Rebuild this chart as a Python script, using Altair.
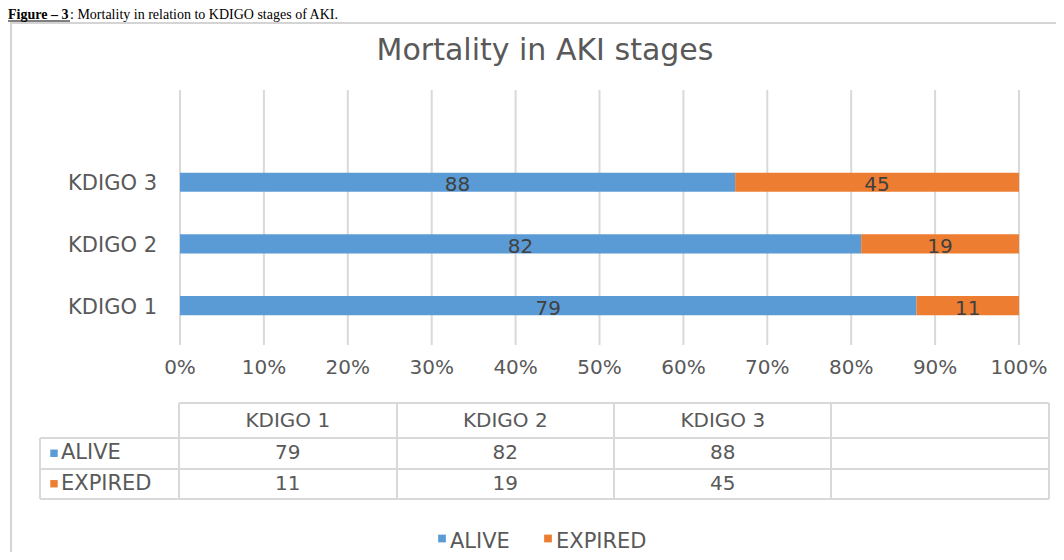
import altair as alt
import pandas as pd

# ---------------- data ----------------
stages = ["KDIGO 1", "KDIGO 2", "KDIGO 3"]
alive = [79, 82, 88]
expired = [11, 19, 45]
series = ["ALIVE", "EXPIRED"]
colors = ["#5B9BD5", "#ED7D31"]
tick_values = [0.0, 0.1, 0.2, 0.3, 0.4, 0.5, 0.6, 0.7, 0.8, 0.9, 1.0]
tick_labels = ["0%", "10%", "20%", "30%", "40%", "50%", "60%", "70%", "80%", "90%", "100%"]
chart_title = "Mortality in AKI stages"
caption_bold = "Figure \u2013 3"
caption_rest = ": Mortality in relation to KDIGO stages of AKI."

# ---------------- tables built from the arrays ----------------
rows = []
for s, a, e in zip(stages, alive, expired):
    t = a + e
    rows.append({"stage": s, "series": "ALIVE", "value": a, "start": 0.0, "end": a / t, "mid": a / t / 2})
    rows.append({"stage": s, "series": "EXPIRED", "value": e, "start": a / t, "end": 1.0, "mid": (a / t + 1.0) / 2})
bars_df = pd.DataFrame(rows)
ticks_df = pd.DataFrame({"t": tick_values, "label": tick_labels})
stage_df = pd.DataFrame({"stage": stages})
header_df = pd.DataFrame({"col": stages})
table_rows = []
for s, a, e in zip(stages, alive, expired):
    table_rows.append({"col": s, "series": "ALIVE", "value": a})
    table_rows.append({"col": s, "series": "EXPIRED", "value": e})
table_df = pd.DataFrame(table_rows)
series_df = pd.DataFrame({"series": series})
one = pd.DataFrame({"k": [0]})

# ---------------- styling ----------------
FONT = "DejaVu Sans"
TXT = "#595959"
GRID = "#d9d9d9"
M = 8  # page margin; view coords = page coords - 8

def P(v):
    return v - M

xscale = alt.Scale(domain=[0, 1], range=[P(180), P(1019)], nice=False, zero=False)
yscale = alt.Scale(domain=stages[::-1], range=[P(151.4), P(336.4)], paddingInner=0.69, paddingOuter=0.345)
cscale = alt.Scale(domain=series, range=colors)
colscale = alt.Scale(domain=stages + [" "], range=[P(179), P(1049)], paddingInner=0, paddingOuter=0)
rowscale = alt.Scale(domain=series, range=[P(438), P(499)], paddingInner=0, paddingOuter=0)

layers = []

# outer frame
layers.append(
    alt.Chart(one).mark_rect(fillOpacity=0, stroke="#d4d4d4", strokeWidth=2).encode(
        x=alt.value(P(11)), x2=alt.value(1100), y=alt.value(P(23)), y2=alt.value(700)
    )
)

# caption at very top
layers.append(
    alt.Chart(one).mark_text(text=caption_bold, font="Liberation Serif", fontSize=14, fontWeight="bold",
                             align="left", baseline="alphabetic", color="#000000").encode(
        x=alt.value(0), y=alt.value(P(19))
    )
)
layers.append(
    alt.Chart(one).mark_rule(color="#000000", strokeWidth=1).encode(
        x=alt.value(0), x2=alt.value(62), y=alt.value(P(21))
    )
)
layers.append(
    alt.Chart(one).mark_text(text=caption_rest, font="Liberation Serif", fontSize=14,
                             align="left", baseline="alphabetic", color="#000000").encode(
        x=alt.value(62), y=alt.value(P(19))
    )
)

# title
layers.append(
    alt.Chart(one).mark_text(text=chart_title, font=FONT, fontSize=30, color=TXT,
                             align="center", baseline="alphabetic").encode(
        x=alt.value(P(545)), y=alt.value(P(60))
    )
)

# vertical gridlines
layers.append(
    alt.Chart(ticks_df).mark_rule(color=GRID, strokeWidth=2).encode(
        x=alt.X("t:Q", scale=xscale, axis=None),
        y=alt.value(P(90)), y2=alt.value(P(345)),
    )
)

# bars
layers.append(
    alt.Chart(bars_df).mark_bar().encode(
        y=alt.Y("stage:N", scale=yscale, axis=None),
        x=alt.X("start:Q", scale=xscale, axis=None),
        x2="end:Q",
        color=alt.Color("series:N", scale=cscale, legend=None),
    )
)

# bar labels
layers.append(
    alt.Chart(bars_df).mark_text(font=FONT, fontSize=20, color="#404040", dy=3).encode(
        y=alt.Y("stage:N", scale=yscale, axis=None),
        x=alt.X("mid:Q", scale=xscale, axis=None),
        text="value:Q",
    )
)

# category labels
layers.append(
    alt.Chart(stage_df).mark_text(font=FONT, fontSize=21, color=TXT, align="right", dy=2).encode(
        y=alt.Y("stage:N", scale=yscale, axis=None),
        x=alt.value(P(157)),
        text="stage:N",
    )
)

# percentage tick labels
layers.append(
    alt.Chart(ticks_df).mark_text(font=FONT, fontSize=20, color=TXT).encode(
        x=alt.X("t:Q", scale=xscale, axis=None),
        y=alt.value(P(368)),
        text="label:N",
    )
)

# data table grid
for yy, x0 in [(403, 179), (438, 40), (469, 40), (499, 40)]:
    layers.append(
        alt.Chart(one).mark_rule(color=GRID, strokeWidth=2).encode(
            x=alt.value(P(x0)), x2=alt.value(P(1049)), y=alt.value(P(yy))
        )
    )
for xx, y0 in [(40, 438), (179, 403), (397, 403), (614, 403), (831, 403), (1049, 403)]:
    layers.append(
        alt.Chart(one).mark_rule(color=GRID, strokeWidth=2).encode(
            x=alt.value(P(xx)), y=alt.value(P(y0)), y2=alt.value(P(499))
        )
    )

# table header
layers.append(
    alt.Chart(header_df).mark_text(font=FONT, fontSize=20, color=TXT).encode(
        x=alt.X("col:N", scale=colscale, axis=None),
        y=alt.value(P(421)),
        text="col:N",
    )
)

# table values
layers.append(
    alt.Chart(table_df).mark_text(font=FONT, fontSize=20, color=TXT).encode(
        x=alt.X("col:N", scale=colscale, axis=None),
        y=alt.Y("series:N", scale=rowscale, axis=None),
        text="value:Q",
    )
)

# table row keys
layers.append(
    alt.Chart(series_df).mark_point(shape="square", filled=True, size=55, opacity=1).encode(
        x=alt.value(P(54)),
        y=alt.Y("series:N", scale=rowscale, axis=None),
        color=alt.Color("series:N", scale=cscale, legend=None),
    )
)
layers.append(
    alt.Chart(series_df).mark_text(font=FONT, fontSize=21, color=TXT, align="left").encode(
        x=alt.value(P(61)),
        y=alt.Y("series:N", scale=rowscale, axis=None),
        text="series:N",
    )
)

# bottom legend
for name, sx, tx in [("ALIVE", 442, 450), ("EXPIRED", 548, 556)]:
    sub = series_df[series_df["series"] == name]
    layers.append(
        alt.Chart(sub).mark_point(shape="square", filled=True, size=60, opacity=1).encode(
            x=alt.value(P(sx)), y=alt.value(P(538.5)),
            color=alt.Color("series:N", scale=cscale, legend=None),
        )
    )
    layers.append(
        alt.Chart(sub).mark_text(font=FONT, fontSize=21, color=TXT, align="left").encode(
            x=alt.value(P(tx)), y=alt.value(P(542)), text="series:N",
        )
    )

chart = (
    alt.layer(*layers)
    .resolve_scale(x="independent", y="independent")
    .properties(width=1048, height=544, padding=0, autosize=alt.AutoSizeParams(type="none"),
                background="white")
    .configure_view(stroke=None)
)

chart.save("out.html", embed_options={"renderer": "svg", "actions": False})
